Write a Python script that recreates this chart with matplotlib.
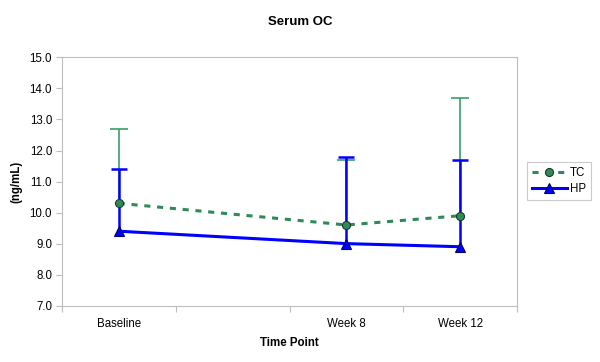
import matplotlib
matplotlib.use("Agg")
import matplotlib.pyplot as plt
from matplotlib.lines import Line2D

categories = ["Baseline", "", "Week 8", "Week 12"]
time_points = ["Baseline", "Week 8", "Week 12"]
tc_mean = [10.3, 9.6, 9.9]
tc_sd = [2.4, 2.1, 3.8]
hp_mean = [9.4, 9.0, 8.9]
hp_sd = [2.0, 2.8, 2.8]
y_ticks = [7.0, 8.0, 9.0, 10.0, 11.0, 12.0, 13.0, 14.0, 15.0]

plt.rcParams['font.family'] = ['Liberation Sans', 'DejaVu Sans']

green = "#2E8B57"
green_err = "#3AA06A"
blue = "#0000FF"
gray = "#BDBDBD"

fig = plt.figure(figsize=(6.0, 3.62), dpi=100)
ax = fig.add_axes([0.103, 0.1555, 0.759, 0.686])

x = [categories.index(t) for t in time_points]
zeros = [0] * len(x)


def upper_errorbar(xs, ys, sd, color, lw, cap, z):
    _, caps, _ = ax.errorbar(xs, ys, yerr=[zeros, sd], fmt='none', ecolor=color,
                             elinewidth=lw, capsize=cap, capthick=lw, zorder=z)
    for c in caps:
        if list(c.get_ydata()) == list(ys):
            c.set_visible(False)


upper_errorbar(x, tc_mean, tc_sd, green_err, 1.2, 6.5, 2)
upper_errorbar(x, hp_mean, hp_sd, blue, 1.8, 6, 3)

ax.plot(x, hp_mean, color=blue, lw=2.2, marker='^', markersize=6.5,
        markerfacecolor=blue, markeredgecolor='#000066', markeredgewidth=0.8,
        zorder=4)
ax.plot(x, tc_mean, color=green, lw=2.2, linestyle=(0, (2, 2.2)), marker='o',
        markersize=5.8, markerfacecolor=green, markeredgecolor='#1a3a2a',
        markeredgewidth=0.8, zorder=5)

ax.set_xlim(-0.5, len(categories) - 0.5)
ax.set_ylim(y_ticks[0], y_ticks[-1])
ax.set_yticks(y_ticks)
ax.set_yticklabels([f"{v:.1f}" for v in y_ticks])

ax.set_xticks([i - 0.5 for i in range(len(categories) + 1)])
ax.set_xticklabels([])
ax.set_xticks(range(len(categories)), minor=True)
ax.set_xticklabels(categories, minor=True)
ax.tick_params(axis='x', which='minor', length=0, pad=9, labelsize=8.3)
ax.tick_params(axis='x', which='major', length=4, color=gray, width=0.8)
ax.tick_params(axis='y', length=4, color=gray, width=0.8, labelsize=8.3, pad=3)

for s in ax.spines.values():
    s.set_color(gray)
    s.set_linewidth(0.8)

ax.set_xlabel("Time Point", fontsize=8.3, fontweight='bold', labelpad=5)
ax.set_ylabel("(ng/mL)", fontsize=8.3, fontweight='bold', labelpad=5)
fig.text(0.5, 0.94, "Serum OC", ha='center', va='center', fontsize=9.5,
         fontweight='bold')

handles = [
    Line2D([], [], color=green, lw=2.2, linestyle=(0, (2, 2.2)), marker='o',
           markersize=5.8, markerfacecolor=green, markeredgecolor='#1a3a2a',
           markeredgewidth=0.8),
    Line2D([], [], color=blue, lw=2.2, marker='^', markersize=6.5,
           markerfacecolor=blue, markeredgecolor='#000066',
           markeredgewidth=0.8),
]
leg = fig.legend(handles, ["TC", "HP"], loc='center left',
                 bbox_to_anchor=(0.879, 0.50), fontsize=8.3, frameon=True,
                 fancybox=False, edgecolor=gray, handlelength=3.0,
                 handletextpad=0.3, borderpad=0.4, labelspacing=0.4,
                 borderaxespad=0)
leg.get_frame().set_linewidth(0.8)

fig.savefig("out.png", dpi=100)
